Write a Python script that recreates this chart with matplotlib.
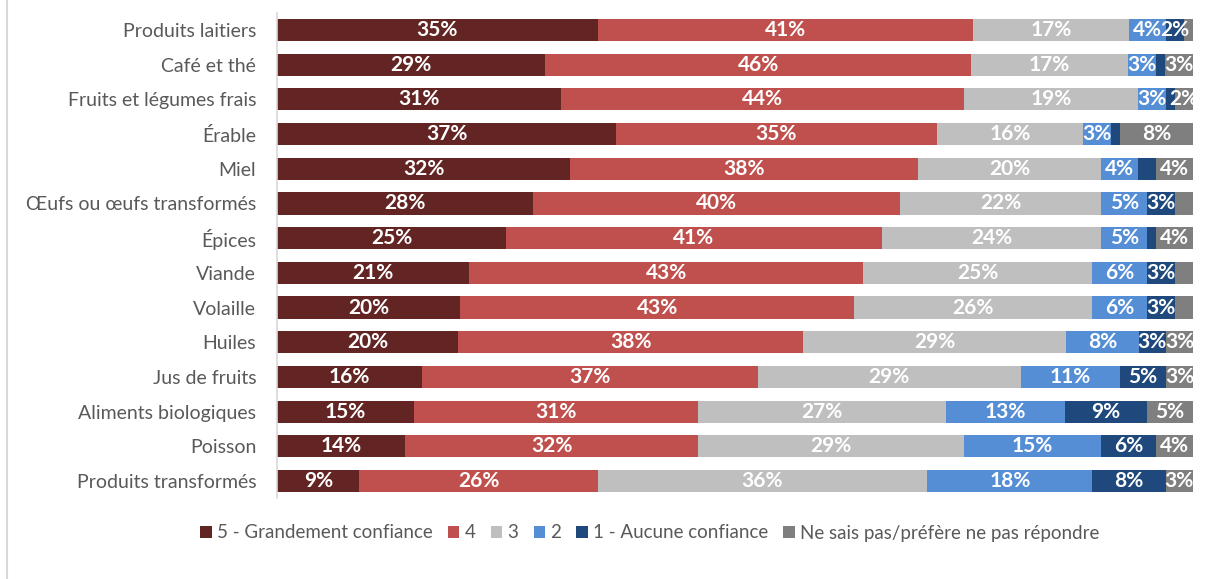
import numpy as np
import matplotlib.pyplot as plt
from matplotlib.lines import Line2D

plt.rcParams['font.family'] = ['Lato', 'DejaVu Sans']

# Categories, top to bottom
categories = [
    "Produits laitiers", "Café et thé", "Fruits et légumes frais", "Érable",
    "Miel", "Œufs ou œufs transformés", "Épices", "Viande", "Volaille",
    "Huiles", "Jus de fruits", "Aliments biologiques", "Poisson",
    "Produits transformés",
]

# Share of answers (%) per level of confidence
conf_5 = [35, 29, 31, 37, 32, 28, 25, 21, 20, 20, 16, 15, 14, 9]
conf_4 = [41, 46, 44, 35, 38, 40, 41, 43, 43, 38, 37, 31, 32, 26]
conf_3 = [17, 17, 19, 16, 20, 22, 24, 25, 26, 29, 29, 27, 29, 36]
conf_2 = [4, 3, 3, 3, 4, 5, 5, 6, 6, 8, 11, 13, 15, 18]
conf_1 = [2, 1, 1, 1, 2, 3, 1, 3, 3, 3, 5, 9, 6, 8]
no_answer = [1, 3, 2, 8, 4, 2, 4, 2, 2, 3, 3, 5, 4, 3]

# Which segments carry a data label (small ones are left blank)
shown_2 = [True] * 14
shown_1 = [True, False, False, False, False, True, False, True, True, True, True, True, True, True]
shown_na = [False, True, True, True, True, False, True, False, False, True, True, True, True, True]

series_names = ["5 - Grandement confiance", "4", "3", "2", "1 - Aucune confiance",
                "Ne sais pas/préfère ne pas répondre"]
colors = ["#632523", "#C0504D", "#BFBFBF", "#558ED5", "#1F497D", "#7F7F7F"]

series = [conf_5, conf_4, conf_3, conf_2, conf_1, no_answer]
shown = [[True] * 14, [True] * 14, [True] * 14, shown_2, shown_1, shown_na]

data = np.array(series, dtype=float)
totals = data.sum(axis=0)
shares = data / totals * 100  # 100% stacked

fig = plt.figure(figsize=(12.17, 5.79), dpi=100)
ax = fig.add_axes([277 / 1217, 1 - 498.4 / 579, 916 / 1217, (498.4 - 12.6) / 579])

y = np.arange(len(categories))
left = np.zeros(len(categories))
for i, (name, col) in enumerate(zip(series_names, colors)):
    bars = ax.barh(y, shares[i], left=left, height=0.64, color=col,
                   edgecolor='none', label=name)
    for j, b in enumerate(bars):
        if shown[i][j]:
            ax.text(left[j] + shares[i][j] / 2, y[j], f"{series[i][j]}%",
                    ha='center', va='center', color='white',
                    fontsize=15, fontweight='bold')
    left += shares[i]

ax.set_xlim(0, 100)
ax.set_ylim(len(categories) - 0.5, -0.5)
ax.set_yticks(y)
ax.set_yticklabels(categories, fontsize=14, color='#595959')
ax.tick_params(axis='y', length=0, pad=15)
ax.set_xticks([])
for s in ['top', 'right', 'bottom']:
    ax.spines[s].set_visible(False)
ax.spines['left'].set_color('#D9D9D9')
ax.spines['left'].set_linewidth(1.2)

fig.legend(loc='center', bbox_to_anchor=(650 / 1217, 1 - 533 / 579), ncol=6,
           frameon=False, fontsize=13.5, labelcolor='#595959',
           handlelength=0.6, handleheight=0.6, handletextpad=0.3,
           columnspacing=0.8)

# chart area border on the left edge
fig.add_artist(Line2D([7 / 1217, 7 / 1217], [0, 1], color='#D9D9D9', lw=1.5,
                      transform=fig.transFigure))

fig.savefig('out.png', dpi=100)
